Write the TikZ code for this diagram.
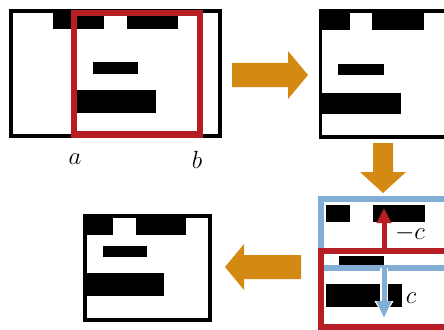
\documentclass[tikz,border=0pt]{standalone}
\usetikzlibrary{arrows.meta}
\definecolor{frameRed}{RGB}{182,30,36}
\definecolor{frameBlue}{RGB}{130,174,214}
\definecolor{stepOrange}{RGB}{212,137,18}
\begin{document}
\begin{tikzpicture}[x=1pt,y=-1pt,
  pframe/.style={draw=black,line width=3.5pt},
  redframe/.style={draw=frameRed,line width=6.5pt},
  blueframe/.style={draw=frameBlue,line width=6pt},
  bigarrow/.style={fill=stepOrange},
  shiftarrow/.style={line width=5pt},
  biglab/.style={font=\fontsize{34}{34}\selectfont,anchor=base,inner sep=0pt},
  smalllab/.style={font=\fontsize{30}{30}\selectfont,anchor=base,inner sep=0pt},
]
\useasboundingbox (0,0) rectangle (444,329);
\clip (0,0) rectangle (444,329);

% ---- panel 1: original image with crop window [a,b]
\fill (53,11) rectangle (104,29);
\fill (127,11) rectangle (178,29);
\fill (93,62) rectangle (138,74);
\fill (74,90) rectangle (156,113);
\draw[pframe] (11,11) rectangle (220,136);
\draw[redframe] (74,13) rectangle (200,134.5);
\node[biglab] (la) at (75,164) {$a$};
\node[biglab] (lb) at (197,168) {$b$};

% ---- panel 2: cropped image
\fill (320,11) rectangle (350,30);
\fill (372,11) rectangle (424,30);
\fill (338,64) rectangle (384,75);
\fill (320,93) rectangle (401,114);
\draw[pframe] (460,11) -- (320.5,11) -- (320.5,137) -- (460,137);

% ---- panel 3: vertical shift by c
\fill (326,205) rectangle (350,222);
\fill (373,205) rectangle (425,222);
\fill (339,256) rectangle (384,266);
\fill (326,284) rectangle (402,307);
\draw[blueframe] (460,199) -- (321,199) -- (321,268) -- (460,268);
\draw[redframe] (460,251) -- (321,251) -- (321,327) -- (460,327);
\coordinate (rs) at (384,251);
\coordinate (re) at (384,208);
\coordinate (bs) at (384,268);
\coordinate (be) at (384,317);
\draw[white,line width=8pt,-{Triangle[length=16pt,width=18pt]}] (bs) -- (be);
\draw[frameBlue,shiftarrow,-{Triangle[length=17pt,width=14pt]}] (bs) -- ([yshift=-1pt]be);
\draw[frameRed,shiftarrow,-{Triangle[length=15pt,width=14pt]}] (rs) -- (re);
\node[smalllab] (lmc) at (410,239) {$-c$};
\node[smalllab] (lc) at (411,303) {$c$};

% ---- panel 4: resulting image
\fill (85,216) rectangle (113,235);
\fill (136,216) rectangle (186,235);
\fill (103,246) rectangle (147,257);
\fill (85,273) rectangle (164,296);
\draw[pframe] (85,216) rectangle (210,320);

% ---- process arrows
\fill[bigarrow] (232,63) -- (288,63) -- (288,51) -- (308,75) -- (288,99) -- (288,87) -- (232,87) -- cycle;
\fill[bigarrow] (373,143) -- (393,143) -- (393,172) -- (406,172) -- (383,193) -- (360,172) -- (373,172) -- cycle;
\fill[bigarrow] (301,255) -- (244,255) -- (244,244) -- (225,267) -- (244,290) -- (244,279) -- (301,279) -- cycle;
\end{tikzpicture}
\end{document}
